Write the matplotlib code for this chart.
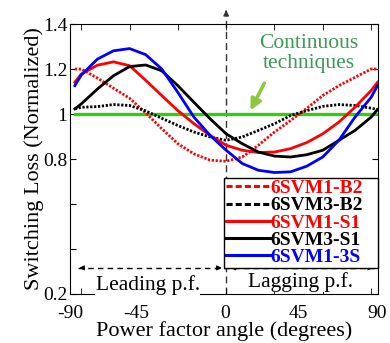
import numpy as np
import matplotlib
matplotlib.use("Agg")
import matplotlib.pyplot as plt
from matplotlib.lines import Line2D

plt.rcParams['font.family'] = ['Liberation Serif', 'DejaVu Serif']

# power factor angle (degrees) and normalized switching loss
angle = [-94, -90, -80, -70, -60, -50, -40, -30, -20, -10, 0,
         10, 20, 30, 40, 50, 60, 70, 80, 90, 94]

svm1_b2 = [1.200, 1.200, 1.160, 1.115, 1.070, 1.005, 0.935, 0.868, 0.823, 0.795, 0.790,
           0.809, 0.861, 0.920, 0.971, 1.025, 1.082, 1.126, 1.163, 1.200, 1.200]
svm3_b2 = [1.023, 1.030, 1.033, 1.042, 1.038, 1.014, 0.981, 0.949, 0.920, 0.898, 0.883,
           0.898, 0.927, 0.957, 0.993, 1.015, 1.034, 1.042, 1.038, 1.026, 1.020]
svm1_s1 = [1.141, 1.178, 1.217, 1.232, 1.215, 1.150, 1.082, 1.015, 0.957, 0.905, 0.861,
           0.839, 0.829, 0.831, 0.846, 0.873, 0.912, 0.964, 1.030, 1.104, 1.141]
svm3_s1 = [1.023, 1.045, 1.111, 1.170, 1.211, 1.218, 1.192, 1.126, 1.052, 0.979, 0.912,
           0.868, 0.831, 0.813, 0.809, 0.819, 0.839, 0.883, 0.927, 0.986, 1.020]
svm1_3s = [1.126, 1.173, 1.244, 1.281, 1.291, 1.264, 1.200, 1.096, 0.986, 0.905, 0.839,
           0.780, 0.750, 0.740, 0.743, 0.768, 0.809, 0.883, 0.986, 1.074, 1.126]
continuous = [1.0, 1.0]
continuous_x = [-94, 94]

series_names = ['6SVM1-B2', '6SVM3-B2', '6SVM1-S1', '6SVM3-S1', '6SVM1-3S']

xtick_labels = ['-90', '-45', '0', '45', '90']
ytick_values = [0.2, 0.4, 0.6, 0.8, 1.0, 1.2, 1.4]
ytick_labels = ['0.2', '', '', '0.8', '1', '1.2', '1.4']

# label positions as they sit in the original (not evenly spaced)
xlabel_pos = [-97, -56, -0.5, 45, 94]

fig = plt.figure(figsize=(3.9, 3.43), dpi=100)
ax = fig.add_axes([0.1795, 0.1429, 0.7897, 0.787])

dot = (0, (0.8, 0.6))
styles = [('red', dot), ('black', dot), ('red', '-'), ('black', '-'), ('blue', '-')]
data = [svm1_b2, svm3_b2, svm1_s1, svm3_s1, svm1_3s]

ax.plot(continuous_x, continuous, color='#33cc11', lw=2.4, zorder=2)
for y, (c, ls) in zip(data, styles):
    ax.plot(angle, y, color=c, ls=ls, lw=2, zorder=3)

ax.set_xlim(-94.3, 94.3)
ax.set_ylim(0.2, 1.4)

ax.set_xticks(xlabel_pos)
ax.set_xticklabels(xtick_labels)
ax.set_xticks(np.arange(-90, 91, 30), minor=True)
ax.tick_params(axis='x', which='major', length=0, labelsize=14, pad=8)
ax.tick_params(axis='x', which='minor', direction='in', length=4, top=True, bottom=True)
ax.set_yticks(ytick_values)
ax.set_yticklabels(ytick_labels)
ax.tick_params(axis='y', direction='in', length=4, right=True, labelsize=14, pad=2)

ax.set_xlabel('Power factor angle (degrees)', fontsize=16, labelpad=-1)
ax.set_ylabel('Switching Loss (Normalized)', fontsize=16, labelpad=-1)

# vertical dashed line with arrow on top
ax.plot([0, 0], [0.2, 1.45], ls=(0, (5, 3)), color='#333333', lw=1, clip_on=False, zorder=1)
ax.annotate('', xy=(0, 1.475), xytext=(0, 1.44),
            arrowprops=dict(arrowstyle='-|>', color='#333333', lw=1, mutation_scale=8),
            annotation_clip=False)

# leading / lagging arrows
y_arr = 0.316
ax.plot([-92, 92], [y_arr, y_arr], ls=(0, (4, 3)), color='k', lw=1, zorder=1)
for tip, tail in [(-93, -88), (-1.0, -6), (1.0, 6), (93, 88)]:
    ax.annotate('', xy=(tip, y_arr), xytext=(tail, y_arr),
                arrowprops=dict(arrowstyle='-|>', color='k', lw=0.8, mutation_scale=7))
ax.text(-48.7, 0.24, 'Leading p.f.', fontsize=15.5, ha='center', va='center',
        bbox=dict(facecolor='white', edgecolor='none', pad=0.5), zorder=4)
ax.text(46, 0.255, 'Lagging p.f.', fontsize=15.5, ha='center', va='center',
        bbox=dict(facecolor='white', edgecolor='none', pad=0.5), zorder=4)

# continuous techniques note
ax.text(51.5, 1.27, 'Continuous\ntechniques', fontsize=15.5, color='#3a9b55',
        ha='center', va='center', linespacing=1.05)
ax.annotate('', xy=(14.3, 1.005), xytext=(24.5, 1.148),
            arrowprops=dict(arrowstyle='-|>', color='#8dc63f', lw=2.5, mutation_scale=16))

handles = [Line2D([], [], color=c, ls=((0, (2, 1)) if ls == dot else '-'), lw=2.2) for c, ls in styles]
leg = ax.legend(handles, series_names, loc='lower left', bbox_to_anchor=(0.5, 0.096, 0.5, 0.337),
                mode='expand', prop=dict(weight='bold', size=14), handlelength=2.3,
                handletextpad=0.0, labelspacing=-0.02, borderpad=0.1, borderaxespad=0,
                fancybox=False, edgecolor='k', framealpha=1)
leg.get_frame().set_linewidth(1.0)
for t, (c, ls) in zip(leg.get_texts(), styles):
    t.set_color(c)
leg.set_zorder(5)

fig.savefig('out.png', dpi=100)
